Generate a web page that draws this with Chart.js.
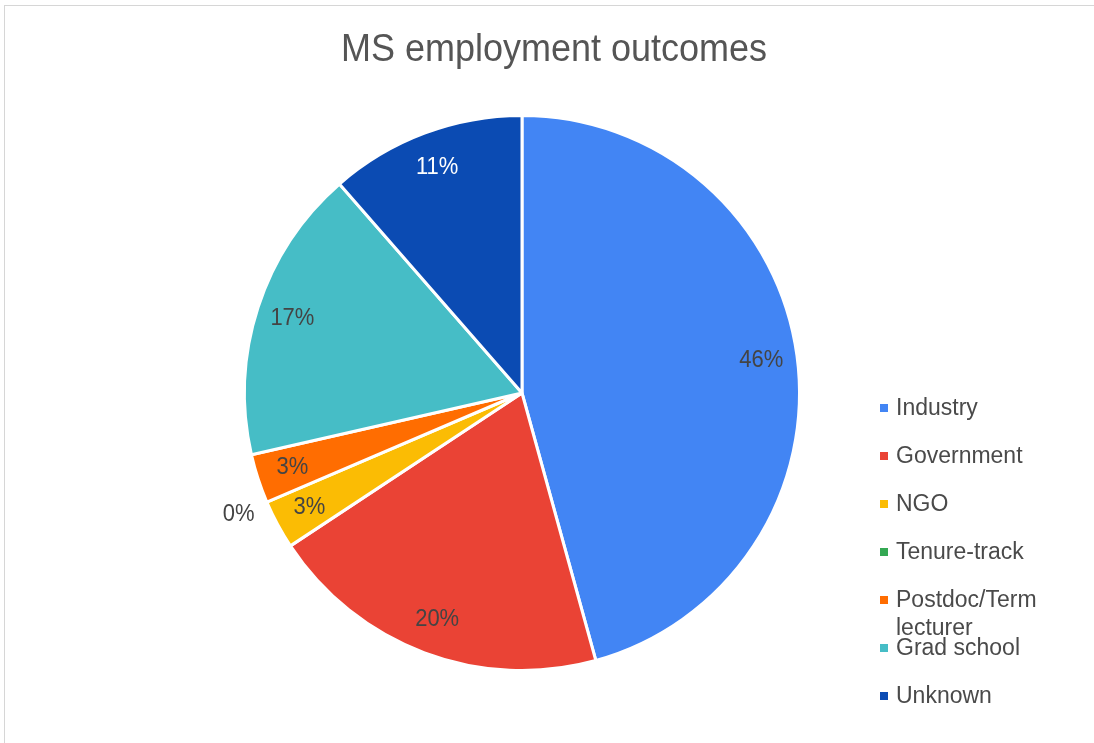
<!DOCTYPE html>
<html>
<head>
<meta charset="utf-8">
<script src="https://cdn.jsdelivr.net/npm/chart.js@4"></script>
<style>
  body { margin: 0; background: #fff; }
  #wrap { position: relative; width: 1094px; height: 743px; }
  #frame { position: absolute; left: 4px; top: 5px; right: 0; bottom: 0;
           border-top: 1px solid #d6d6d6; border-left: 1px solid #d6d6d6; pointer-events: none; }
</style>
</head>
<body>
<div id="wrap">
  <canvas id="grafico1" width="1094" height="743"></canvas>
  <div id="frame"></div>
</div>
<script>
const titulo = 'MS employment outcomes';
const categorias = ['Industry', 'Government', 'NGO', 'Tenure-track', 'Postdoc/Term lecturer', 'Grad school', 'Unknown'];
const legendaLinhas = [['Industry'], ['Government'], ['NGO'], ['Tenure-track'], ['Postdoc/Term', 'lecturer'], ['Grad school'], ['Unknown']];
const valores = [16, 7, 1, 0, 1, 6, 4];
const cores = ['#4285f4', '#ea4335', '#fbbc04', '#34a853', '#ff6d01', '#46bdc6', '#0b4bb3'];

const fonte = '"Liberation Sans", Arial, sans-serif';

// texto levemente esticado na vertical, como no original
function texto(ctx, t, x, y, esticar) {
    ctx.save();
    ctx.translate(x, y);
    ctx.scale(1, esticar);
    ctx.fillText(t, 0, 0);
    ctx.restore();
}

// porcentagens dentro das fatias
const rotulos = {
    id: 'rotulos',
    afterDatasetsDraw(chart) {
        const ctx = chart.ctx;
        const meta = chart.getDatasetMeta(0);
        const total = valores.reduce((a, b) => a + b, 0);
        ctx.save();
        ctx.font = '22px ' + fonte;
        ctx.textAlign = 'center';
        ctx.textBaseline = 'middle';
        meta.data.forEach((arc, i) => {
            const p = arc.getProps(['x', 'y', 'startAngle', 'endAngle', 'outerRadius'], true);
            const meio = (p.startAngle + p.endAngle) / 2;
            const pct = Math.round(valores[i] / total * 100) + '%';
            const r = valores[i] === 0 ? p.outerRadius * 1.11 : p.outerRadius * 0.87;
            ctx.fillStyle = i === 6 ? '#ffffff' : '#444444';
            texto(ctx, pct, p.x + Math.cos(meio) * r, p.y + Math.sin(meio) * r, 1.08);
        });
        ctx.restore();
    }
};

// título e legenda
const extras = {
    id: 'extras',
    afterDraw(chart) {
        const ctx = chart.ctx;
        ctx.save();
        ctx.font = '36px ' + fonte;
        ctx.fillStyle = '#555555';
        ctx.textAlign = 'center';
        ctx.textBaseline = 'alphabetic';
        texto(ctx, titulo, 554, 61, 1.08);

        ctx.font = '23px ' + fonte;
        ctx.textAlign = 'left';
        ctx.textBaseline = 'middle';
        let y = 408;
        legendaLinhas.forEach((linhas, i) => {
            ctx.fillStyle = cores[i];
            ctx.fillRect(880, y - 4, 8, 8);
            ctx.fillStyle = '#4a4a4a';
            linhas.forEach((t, k) => texto(ctx, t, 896, y + k * 28, 1.05));
            y += 48;
        });
        ctx.restore();
    }
};

window.addEventListener('DOMContentLoaded', () => {
    const ctx = document.getElementById('grafico1').getContext('2d');

    new Chart(ctx, {
        type: 'pie',
        data: {
            labels: categorias,
            datasets: [{
                data: valores,
                backgroundColor: cores,
                borderColor: '#ffffff',
                borderWidth: 3
            }]
        },
        options: {
            responsive: false,
            animation: false,
            layout: { padding: { left: 242, right: 292, top: 114, bottom: 71 } },
            plugins: {
                legend: { display: false },
                tooltip: { enabled: false },
                title: { display: false }
            }
        },
        plugins: [rotulos, extras]
    });
});
</script>
</body>
</html>
